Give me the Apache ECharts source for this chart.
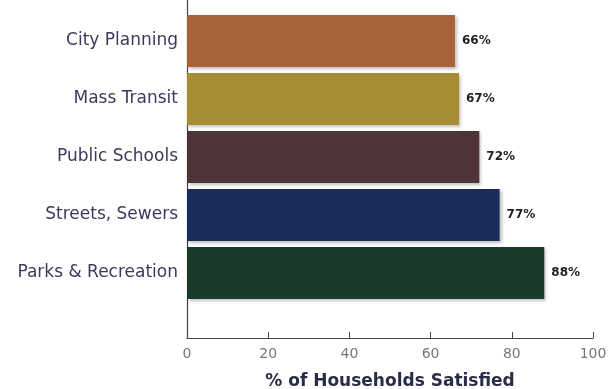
<!DOCTYPE html>
<html>
<head>
  <meta charset="utf-8">
  <script src="https://cdn.jsdelivr.net/npm/echarts@6/dist/echarts.min.js"></script>
  <style>
    html, body { margin: 0; padding: 0; background: #fff; }
    #main { width: 614px; height: 389px; }
  </style>
</head>
<body>
  <div id="main"></div>
  <script>
    // data
    var categories = ['City Planning', 'Mass Transit', 'Public Schools', 'Streets, Sewers', 'Parks & Recreation'];
    var satisfied = [66, 67, 72, 77, 88];
    var barColors = ['#a9613b', '#a68d33', '#4e3438', '#1b2c5b', '#1a3b2c'];
    var xTicks = [0, 20, 40, 60, 80, 100];

    var myChart = echarts.init(document.getElementById('main'));

    var option = {
      animation: false,
      textStyle: { fontFamily: 'DejaVu Sans' },
      grid: [
        // bars
        { left: 187, right: 21, top: 12, height: 290, outerBoundsMode: 'none' },
        // axis frame
        { left: 187, right: 21, top: 0, bottom: 51, outerBoundsMode: 'none' }
      ],
      xAxis: [{
        gridIndex: 0,
        type: 'value',
        min: xTicks[0],
        max: xTicks[xTicks.length - 1],
        show: false
      }, {
        gridIndex: 1,
        type: 'value',
        min: xTicks[0],
        max: xTicks[xTicks.length - 1],
        interval: 20,
        axisLine: { show: true, lineStyle: { color: '#444', width: 1.2 } },
        axisTick: { show: true, inside: true, length: 6, lineStyle: { color: '#444' } },
        axisLabel: { color: '#777', fontSize: 14, margin: 9 },
        splitLine: { show: false },
        name: '% of Households Satisfied',
        nameLocation: 'middle',
        nameGap: 35,
        nameTextStyle: { fontSize: 17, fontWeight: 'bold', color: '#2c2c48' }
      }],
      yAxis: [{
        gridIndex: 0,
        type: 'category',
        inverse: true,
        data: categories,
        axisLine: { show: false },
        axisTick: { show: false },
        axisLabel: { color: '#3a3a5c', fontSize: 17, margin: 9 }
      }, {
        gridIndex: 1,
        type: 'value',
        axisLine: { show: true, lineStyle: { color: '#444', width: 1.2 } },
        axisTick: { show: false },
        axisLabel: { show: false },
        splitLine: { show: false }
      }],
      series: [{
        type: 'bar',
        xAxisIndex: 0,
        yAxisIndex: 0,
        barWidth: 52,
        data: satisfied.map(function (v, i) {
          return { value: v, itemStyle: { color: barColors[i] } };
        }),
        itemStyle: {
          shadowColor: 'rgba(0,0,0,0.25)',
          shadowBlur: 3,
          shadowOffsetX: 2,
          shadowOffsetY: 2
        },
        label: {
          show: true,
          position: 'right',
          distance: 7,
          formatter: '{c}%',
          fontSize: 12,
          fontWeight: 'bold',
          color: '#222'
        }
      }]
    };

    myChart.setOption(option);
  </script>
</body>
</html>
